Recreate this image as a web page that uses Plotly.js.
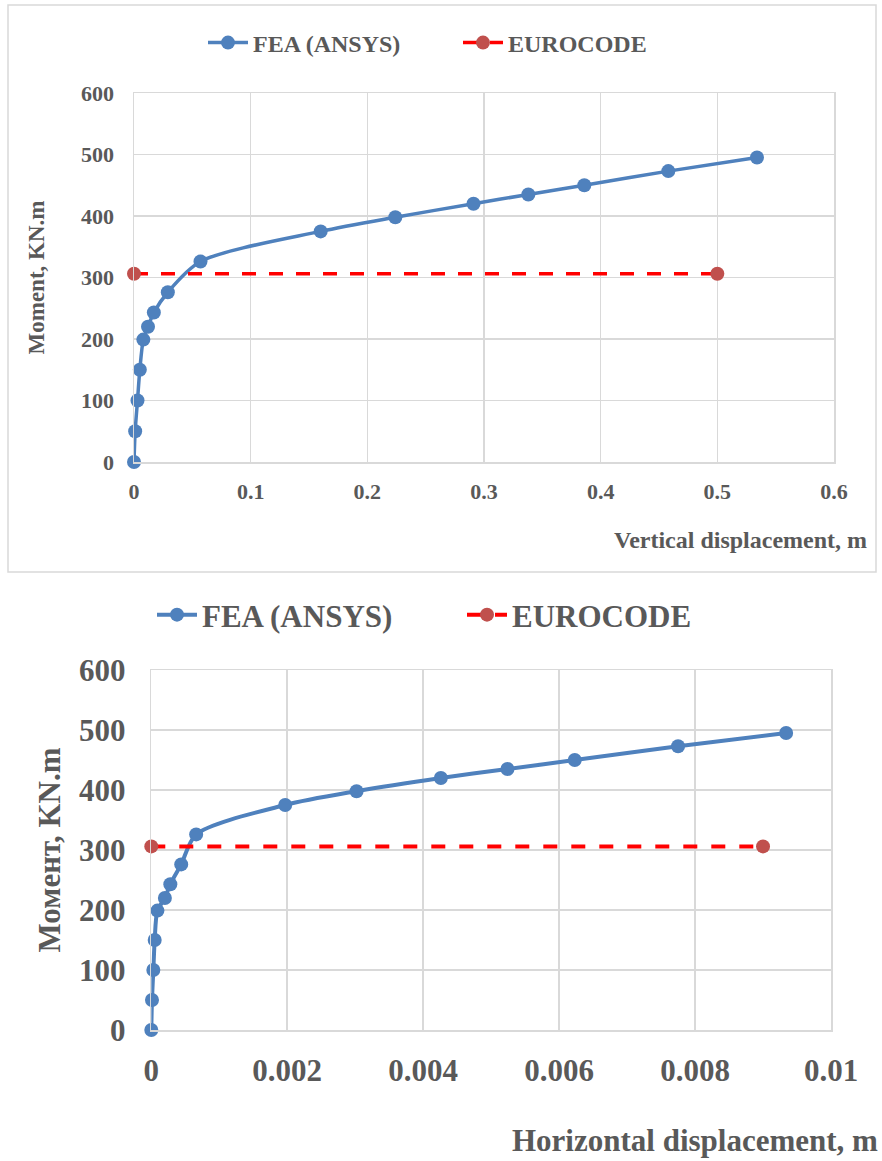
<!DOCTYPE html>
<html>
<head>
<meta charset="utf-8">
<script src="https://cdn.plot.ly/plotly-3.0.1.min.js"></script>
<style>html,body{margin:0;padding:0;background:#fff;}#chart{width:882px;height:1161px;}</style>
</head>
<body>
<div id="chart"></div>
<script>
// ---- data ----
const moment = [0, 50, 100, 150, 199, 220, 243, 276, 326, 375, 398, 420, 435, 450, 473, 495];
const verticalDisp = [0, 0.001, 0.003, 0.005, 0.008, 0.012, 0.017, 0.029, 0.057, 0.160, 0.224, 0.291, 0.338, 0.386, 0.458, 0.534];
const horizontalDisp = [0, 0.00001, 0.00003, 0.00005, 0.00009, 0.0002, 0.00028, 0.00044, 0.00066, 0.00197, 0.00302, 0.00426, 0.00524, 0.00623, 0.00775, 0.00934];
const eurocodeMoment = [306, 306];
const eurocodeVertical = [0, 0.5];
const eurocodeHorizontal = [0, 0.009];
const seriesNames = ["FEA (ANSYS)", "EUROCODE"];
const yTicks = [0, 100, 200, 300, 400, 500, 600];
const xTicksTop = [0, 0.1, 0.2, 0.3, 0.4, 0.5, 0.6];
const xTicksBottom = [0, 0.002, 0.004, 0.006, 0.008, 0.01];

const W = 882, H = 1161;
const px = v => v / W;
const py = v => (H - v) / H;

const blue = "#4f81bd", redMk = "#c0504d", red = "#ff0000", grid = "#d9d9d9", txt = "#595959";
const serif = "Liberation Serif, Times New Roman, serif";

const traces = [
  {x: verticalDisp, y: moment, name: seriesNames[0], mode: "lines+markers", xaxis: "x", yaxis: "y", legend: "legend", cliponaxis: false,
   line: {color: blue, width: 3.5, shape: "spline", smoothing: 0.8}, marker: {color: blue, size: 14}},
  {x: eurocodeVertical, y: eurocodeMoment, name: seriesNames[1], mode: "lines+markers", xaxis: "x", yaxis: "y", legend: "legend", cliponaxis: false,
   line: {color: red, width: 3.5, dash: "14px,13px"}, marker: {color: redMk, size: 14}},
  {x: horizontalDisp, y: moment, name: seriesNames[0], mode: "lines+markers", xaxis: "x2", yaxis: "y2", legend: "legend2", cliponaxis: false,
   line: {color: blue, width: 4, shape: "spline", smoothing: 0.8}, marker: {color: blue, size: 14}},
  {x: eurocodeHorizontal, y: eurocodeMoment, name: seriesNames[1], mode: "lines+markers", xaxis: "x2", yaxis: "y2", legend: "legend2", cliponaxis: false,
   line: {color: red, width: 4, dash: "14px,14px"}, marker: {color: redMk, size: 14}}
];

const axBase = {showgrid: true, gridcolor: grid, gridwidth: 1.5, zeroline: false, showline: true, linecolor: grid, linewidth: 1.5, mirror: true, ticks: ""};

const layout = {
  width: W, height: H,
  margin: {l: 0, r: 0, t: 0, b: 0},
  paper_bgcolor: "#fff", plot_bgcolor: "#fff",
  font: {family: serif, color: txt},
  xaxis: Object.assign({}, axBase, {domain: [px(134), px(834)], range: [0, 0.6], tickvals: xTicksTop, ticktext: xTicksTop.map(String),
    tickfont: {family: serif, size: 22, color: txt, weight: "bold"}, ticklabelstandoff: 9, anchor: "y"}),
  yaxis: Object.assign({}, axBase, {domain: [py(462), py(93)], range: [0, 600], tickvals: yTicks,
    tickfont: {family: serif, size: 22, color: txt, weight: "bold"}, ticklabelstandoff: 14, anchor: "x",
    title: {text: "Moment, KN.m", font: {family: serif, size: 23, color: txt, weight: "bold"}, standoff: 30}}),
  xaxis2: Object.assign({}, axBase, {domain: [px(151.3), px(831)], range: [0, 0.01], tickvals: xTicksBottom, ticktext: xTicksBottom.map(String),
    tickfont: {family: serif, size: 31, color: txt, weight: "bold"}, ticklabelstandoff: 12, anchor: "y2"}),
  yaxis2: Object.assign({}, axBase, {domain: [py(1030), py(670)], range: [0, 600], tickvals: yTicks,
    tickfont: {family: serif, size: 31, color: txt, weight: "bold"}, ticklabelstandoff: 18, anchor: "x2",
    title: {text: "Момент, KN.m", font: {family: serif, size: 31, color: txt, weight: "bold"}, standoff: 9}}),
  showlegend: true,
  legend: {orientation: "h", x: px(458), xanchor: "center", y: py(43), yanchor: "middle", entrywidth: 200, entrywidthmode: "pixels",
    font: {family: serif, size: 24, color: txt, weight: "bold"}, bgcolor: "rgba(0,0,0,0)", itemwidth: 40},
  legend2: {orientation: "h", x: px(462), xanchor: "center", y: py(615), yanchor: "middle", entrywidth: 255, entrywidthmode: "pixels",
    font: {family: serif, size: 31, color: txt, weight: "bold"}, bgcolor: "rgba(0,0,0,0)", itemwidth: 40},
  annotations: [
    {text: "Vertical displacement, m", xref: "paper", yref: "paper", x: px(869), y: py(540), xanchor: "right", yanchor: "middle",
     showarrow: false, font: {family: serif, size: 24, color: txt, weight: "bold"}},
    {text: "Horizontal displacement, m", xref: "paper", yref: "paper", x: px(880), y: py(1140), xanchor: "right", yanchor: "middle",
     showarrow: false, font: {family: serif, size: 31, color: txt, weight: "bold"}}
  ],
  shapes: [
    {type: "rect", xref: "paper", yref: "paper", x0: px(8), x1: px(876), y0: py(572), y1: py(5), line: {color: grid, width: 1.5}}
  ]
};

Plotly.newPlot("chart", traces, layout, {displayModeBar: false, staticPlot: true});
</script>
</body>
</html>
